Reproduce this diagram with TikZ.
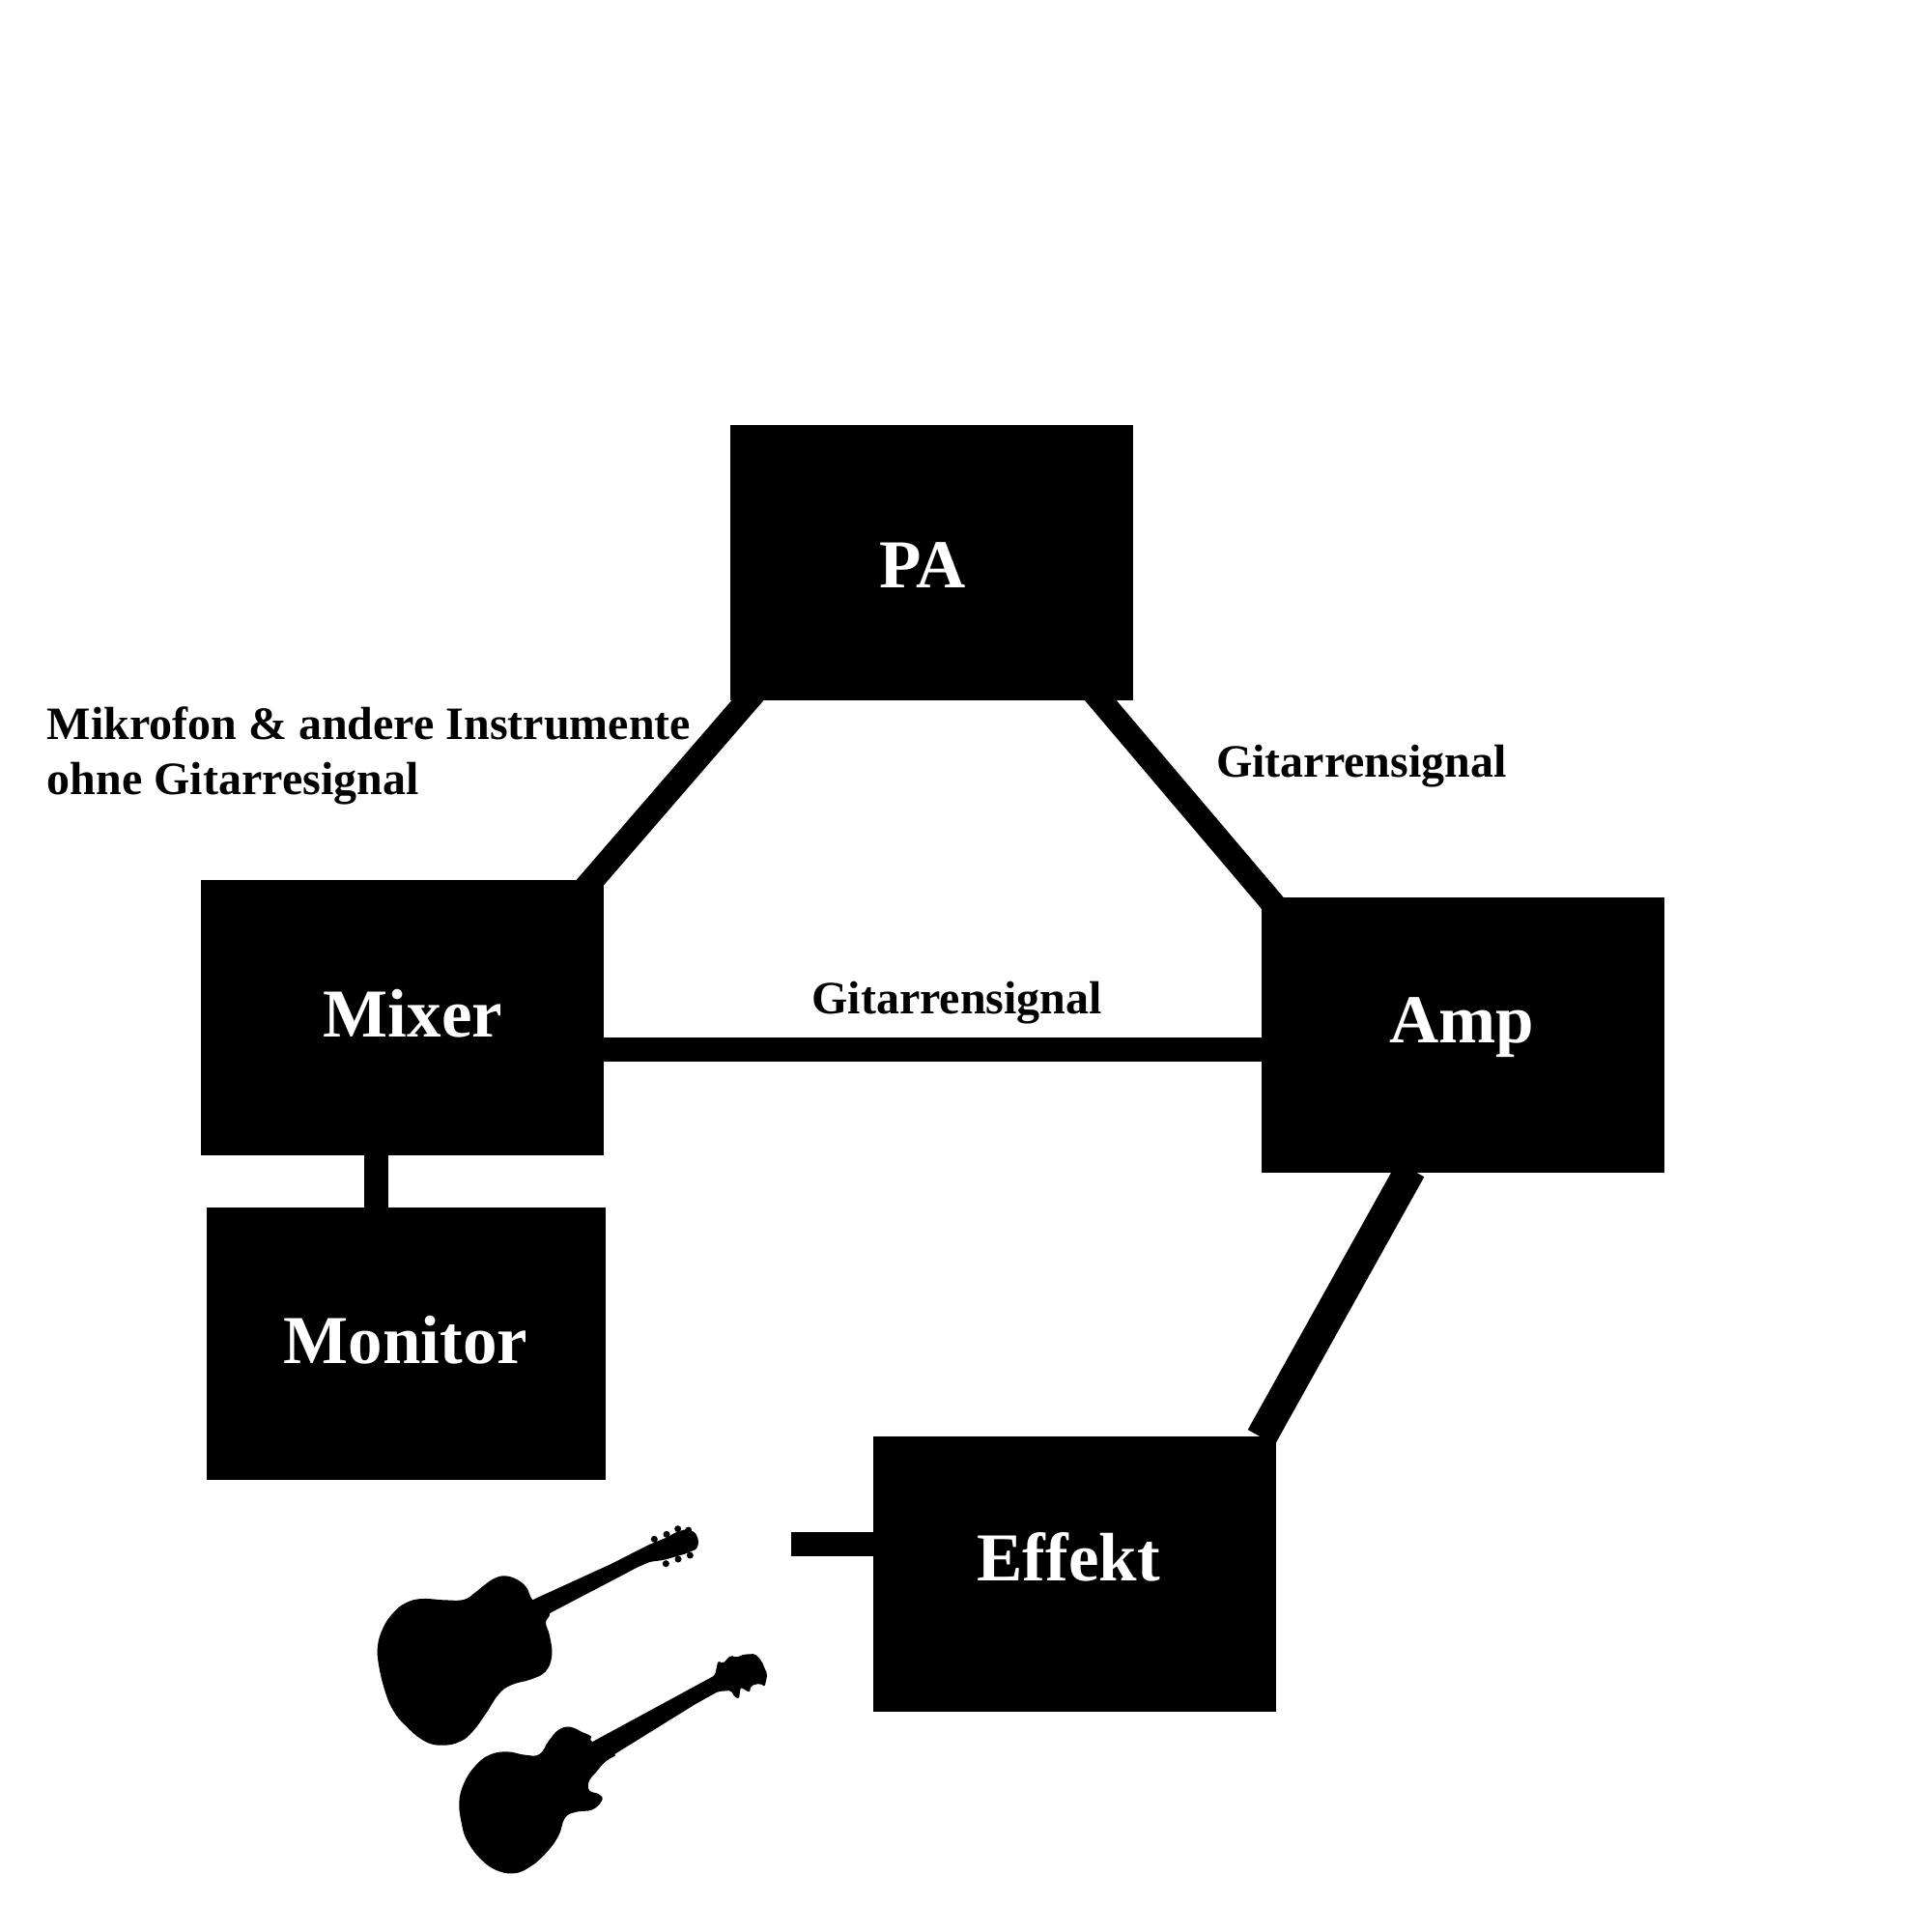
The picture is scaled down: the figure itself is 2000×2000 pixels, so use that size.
\documentclass[tikz,border=0pt]{standalone}
\usepackage{fontspec}
\setmainfont{Liberation Serif}
\tikzset{
  box/.style={fill=black,inner sep=0pt,outer sep=0pt,minimum width=208.5pt,minimum height=142.5pt},
  boxtext/.style={anchor=base,text=white,font=\fontsize{35.5}{36}\selectfont\bfseries,inner sep=0pt},
  sigtext/.style={anchor=base west,align=left,text=black,font=\fontsize{24}{28.5}\selectfont\bfseries,inner sep=0pt},
  wire/.style={draw=black,line width=12.5pt,line cap=butt},
  thickwire/.style={draw=black,line width=16pt,line cap=butt},
  silhouette/.style={fill=black,draw=none},
}
\begin{document}
\begin{tikzpicture}[x=0.5pt,y=-0.5pt]
\useasboundingbox (0,0) rectangle (2000,2000);
\fill[white] (0,0) rectangle (2000,2000);
% boxes
\node[box] (pa) at (964.3,582.5) {};
\node[box] (mixer) at (416.5,1053.5) {};
\node[box] (amp) at (1514.5,1071.5) {};
\node[box,minimum width=206.3pt,minimum height=141pt] (monitor) at (420.6,1391.1) {};
\node[box] (effekt) at (1112.7,1629.2) {};
% box texts
\node[boxtext] (patext) at (955,608) {PA};
\node[boxtext] (mixertext) at (427.5,1073) {Mixer};
\node[boxtext] (amptext) at (1513,1079) {Amp};
\node[boxtext] (monitortext) at (420,1411) {Monitor};
\node[boxtext] (effekttext) at (1106,1636.7) {Effekt};
% signal labels
\node[sigtext] (miclabel) at (48.5,822) {Mikrofon \& andere Instrumente\\ohne Gitarresignal};
\node[sigtext] (rightlabel) at (1258.7,804.3) {Gitarrensignal};
\node[sigtext] (midlabel) at (840,1049.5) {Gitarrensignal};
% connector helpers
\coordinate (pamixA) at (782.6,715);
\coordinate (pamixB) at (601,925);
\coordinate (paampA) at (1130.8,715);
\coordinate (paampB) at (1323.3,942);
\coordinate (ampeffA) at (1460.3,1210.5);
\coordinate (ampeffB) at (1305.7,1487.8);
\coordinate (mixamp) at (800,1086.5);
\coordinate (mixmon) at (389.3,1220);
\coordinate (stubrow) at (880,1598);
\coordinate (stubfree) at (818.9,1598);
% connectors
\draw[wire] (pamixA) -- (pamixB);
\draw[wire] (paampA) -- (paampB);
\draw[wire] (mixer.east |- mixamp) -- (amp.west |- mixamp);
\draw[wire] (mixer.south -| mixmon) -- (monitor.north -| mixmon);
\draw[thickwire] (ampeffA) -- (ampeffB);
\draw[wire] (stubfree) -- (effekt.west |- stubrow);
% acoustic guitar
\begin{scope}[shift={(370,1560)},x=0.16667pt,y=-0.16667pt]
\fill[silhouette] plot[smooth cycle,tension=.7] coordinates {(545,290) (525,250) (495,225) (458,214) (425,222) (395,242) (365,266) (330,288) (270,289) (200,285) (150,298) (110,330) (80,375) (63,430) (66,490) (85,570) (110,630) (150,680) (210,728) (265,740) (320,728) (360,695) (400,640) (440,580) (480,552) (540,535) (585,510) (604,460) (597,400) (585,360) (595,340) (592,325)};
\fill[silhouette,rounded corners=1pt] (500,320) -- (545,288) -- (790,176) -- (870,135) -- (910,115) -- (960,95) -- (990,78) -- (1025,68) -- (1050,80) -- (1060,105) -- (1055,130) -- (1020,145) -- (950,165) -- (910,170) -- (870,187) -- (800,224) -- (597,330) -- (520,390) -- cycle;
\foreach \p in {(922,100),(960,85),(995,68),(1028,72),(958,176),(996,162),(1033,150)} \fill[silhouette] \p circle (10.5);
\end{scope}
% electric guitar
\begin{scope}[shift={(450,1700)},x=0.16667pt,y=-0.16667pt]
\fill[silhouette] plot[smooth cycle,tension=.7] coordinates {(490,310) (485,292) (460,280) (420,263) (385,272) (355,305) (325,348) (280,350) (225,340) (170,350) (125,385) (90,440) (76,500) (85,570) (100,615) (135,665) (185,705) (245,718) (300,695) (350,650) (385,600) (405,545) (440,527) (490,520) (520,490) (510,472) (480,460) (480,430) (500,405) (530,370) (560,345)};
\fill[silhouette,rounded corners=1pt] (440,340) -- (492,308) -- (870,103) -- (880,58) -- (895,66) -- (920,40) -- (935,48) -- (960,38) -- (995,36) -- (1015,58) -- (1033,100) -- (1025,138) -- (1010,128) -- (982,135) -- (978,156) -- (950,140) -- (945,175) -- (933,172) -- (920,150) -- (880,153) -- (810,192) -- (560,347) -- (470,420) -- cycle;
\end{scope}
\end{tikzpicture}
\end{document}
